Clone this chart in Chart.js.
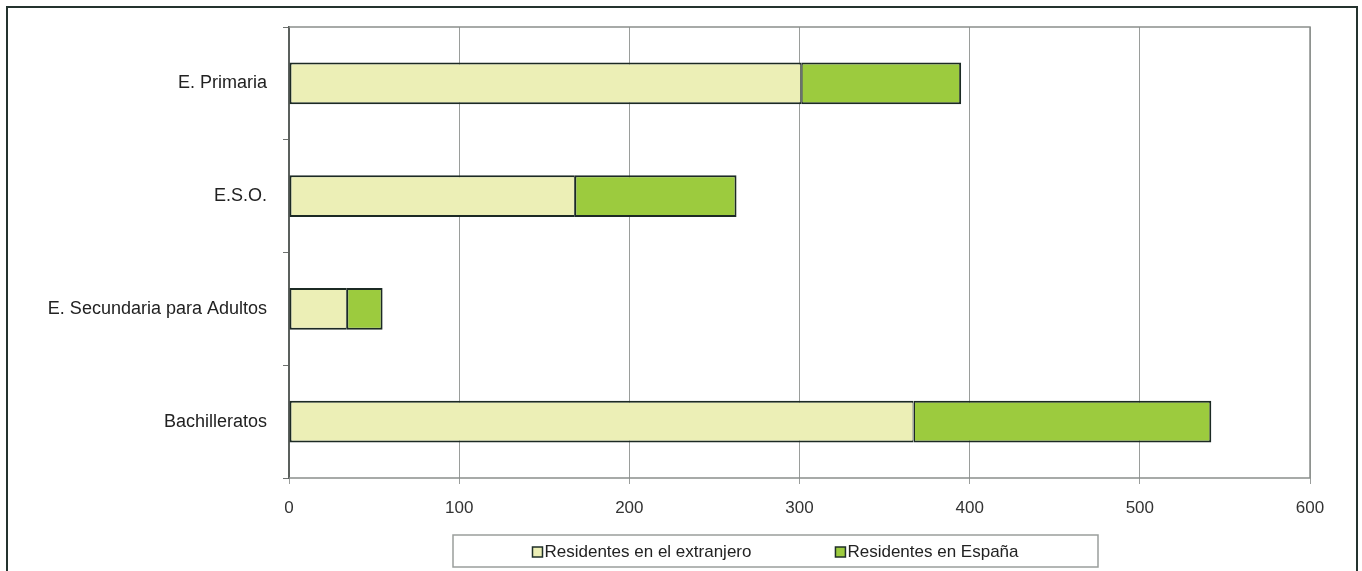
<!DOCTYPE html>
<html>
<head>
<meta charset="utf-8">
<script src="https://cdn.jsdelivr.net/npm/chart.js@4.4.1/dist/chart.umd.min.js"></script>
<style>
  body { margin: 0; background: #fff; }
  #wrap { width: 1362px; height: 571px; position: relative; }
</style>
</head>
<body>
<div id="wrap"><canvas id="bars"></canvas></div>
<script>
// categories and values
const niveles = ["E. Primaria", "E.S.O.", "E. Secundaria para Adultos", "Bachilleratos"];
const extranjero = [301, 168, 34, 367];
const espana = [94, 95, 21, 175];
const serieNames = ["Residentes en el extranjero", "Residentes en España"];
const xTicks = [0, 100, 200, 300, 400, 500, 600];

const fontFam = '"Liberation Sans", Arial, sans-serif';

// frame, outer border and boxed legend, drawn like the excel original
const decor = {
  id: "decor",
  beforeDatasetsDraw(chart) {
    const c = chart.ctx, a = chart.chartArea;
    c.save();
    c.strokeStyle = "#8a8f8c";
    c.lineWidth = 1.5;
    c.beginPath();
    c.moveTo(a.left, a.top); c.lineTo(a.right, a.top);
    c.lineTo(a.right, a.bottom); c.lineTo(a.left, a.bottom);
    c.stroke();
    c.restore();
  },
  afterDraw(chart) {
    const c = chart.ctx;
    c.save();
    // outer border
    c.strokeStyle = "#24332e";
    c.lineWidth = 2;
    c.strokeRect(7, 7, 1350, 600);

    // legend box
    const bx = 453, by = 535, bw = 645, bh = 32;
    c.fillStyle = "#fff";
    c.fillRect(bx, by, bw, bh);
    c.strokeStyle = "#9a9e9c";
    c.lineWidth = 1.5;
    c.strokeRect(bx, by, bw, bh);

    c.font = "17px " + fontFam;
    c.textBaseline = "middle";
    const ds = chart.data.datasets;
    const mk = 10, gap = 2, between = 84;
    const widths = ds.map(d => mk + gap + c.measureText(d.label).width);
    const total = widths[0] + between + widths[1];
    let x = bx + (bw - total) / 2;
    const cy = by + bh / 2 + 1;
    ds.forEach((d, i) => {
      c.fillStyle = d.backgroundColor;
      c.fillRect(x, cy - mk / 2, mk, mk);
      c.strokeStyle = "#1f2f28";
      c.lineWidth = 1.5;
      c.strokeRect(x, cy - mk / 2, mk, mk);
      c.fillStyle = "#222";
      c.fillText(d.label, x + mk + gap, cy);
      x += widths[i] + between;
    });
    c.restore();
  }
};

new Chart(document.getElementById("bars"), {
  type: "bar",
  data: {
    labels: niveles,
    datasets: [
      {
        label: serieNames[0],
        data: extranjero,
        backgroundColor: "#ecefb6",
        borderColor: "#1c2a24",
        borderWidth: {top: 2, bottom: 2, left: 2, right: 1},
        borderSkipped: false,
        barPercentage: 0.37,
        categoryPercentage: 1
      },
      {
        label: serieNames[1],
        data: espana,
        backgroundColor: "#9ccb3e",
        borderColor: "#1c2a24",
        borderWidth: {top: 2, bottom: 2, left: 1.5, right: 2},
        borderSkipped: false,
        barPercentage: 0.37,
        categoryPercentage: 1
      }
    ]
  },
  options: {
    indexAxis: "y",
    responsive: true,
    maintainAspectRatio: false,
    animation: false,
    layout: { padding: { top: 27, right: 52, left: 0, bottom: 0 } },
    plugins: {
      legend: { display: false },
      tooltip: { enabled: false }
    },
    scales: {
      x: {
        stacked: true,
        min: 0,
        max: 600,
        afterBuildTicks(scale) { scale.ticks = xTicks.map(v => ({ value: v })); },
        afterFit(scale) { scale.height = 93; },
        grid: { color: "#9a9d9b", lineWidth: 1, tickLength: 6, drawTicks: true },
        border: { display: false },
        ticks: {
          padding: 14,
          color: "#333",
          font: { family: fontFam, size: 17 }
        }
      },
      y: {
        stacked: true,
        afterFit(scale) { scale.width = 289; },
        grid: { offset: true, drawOnChartArea: false, tickLength: 6, color: "#6d716f" },
        border: { display: true, color: "#5b605d", width: 2 },
        ticks: {
          padding: 16,
          color: "#222",
          font: { family: fontFam, size: 18 }
        }
      }
    }
  },
  plugins: [decor]
});
</script>
</body>
</html>
